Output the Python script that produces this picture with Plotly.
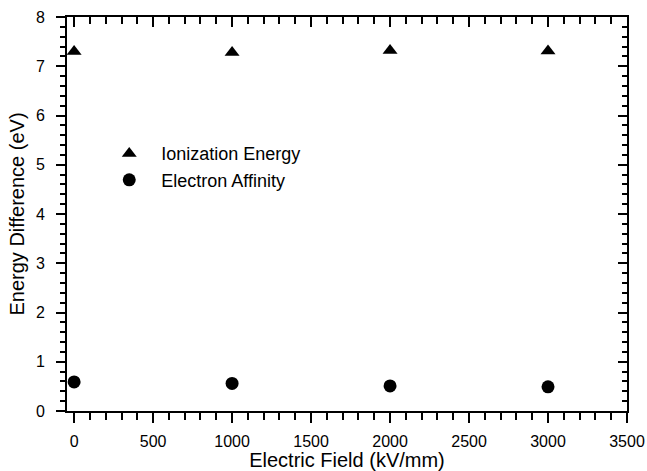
import plotly.graph_objects as go

# Electric field values (kV/mm)
field = [0, 1000, 2000, 3000]
# Energy differences (eV)
ionization_energy = [7.30, 7.28, 7.32, 7.31]
electron_affinity = [0.59, 0.56, 0.51, 0.49]

x_range = [-45, 3500]
y_range = [0, 8]
font_family = "Liberation Sans, Arial, sans-serif"

fig = go.Figure()
fig.add_trace(go.Scatter(
    x=field, y=ionization_energy, mode="markers", name="Ionization Energy",
    marker=dict(symbol="triangle-up", size=13, color="black"),
))
fig.add_trace(go.Scatter(
    x=field, y=electron_affinity, mode="markers", name="Electron Affinity",
    marker=dict(symbol="circle", size=13, color="black"),
))
# Invisible copy on the mirrored axes so the top/right frame gets its ticks
fig.add_trace(go.Scatter(
    x=field, y=ionization_energy, xaxis="x2", yaxis="y2", mode="markers",
    marker=dict(opacity=0), showlegend=False, hoverinfo="skip",
))

line_common = dict(
    showline=True, linecolor="black", linewidth=2,
    tickcolor="black", tickwidth=2,
    showgrid=False, zeroline=False, automargin=False,
)

fig.update_layout(
    width=647, height=471,
    margin=dict(l=67, r=20, t=17, b=60),
    plot_bgcolor="white", paper_bgcolor="white",
    font=dict(family=font_family, color="black", size=16),
    showlegend=True,
    legend=dict(
        x=0.054, y=0.70, xanchor="left", yanchor="top",
        bgcolor="rgba(0,0,0,0)", font=dict(size=18), itemwidth=54,
        tracegroupgap=0,
    ),
    xaxis=dict(
        range=x_range, tick0=0, dtick=500, ticks="outside", ticklen=10,
        ticklabelstandoff=5,
        minor=dict(dtick=100, tick0=0, ticks="outside", ticklen=7,
                   tickwidth=2, tickcolor="black"),
        title=dict(text="Electric Field (kV/mm)", font=dict(size=20), standoff=5),
        **line_common,
    ),
    xaxis2=dict(
        range=x_range, overlaying="x", side="top", layer="above traces",
        tick0=0, dtick=500, ticks="inside", ticklen=10, showticklabels=False,
        minor=dict(dtick=100, tick0=0, ticks="inside", ticklen=7,
                   tickwidth=2, tickcolor="black"),
        **line_common,
    ),
    yaxis=dict(
        range=y_range, tick0=0, dtick=1, ticks="outside", ticklen=9,
        ticklabelstandoff=8,
        minor=dict(dtick=0.2, tick0=0, ticks="outside", ticklen=5,
                   tickwidth=2, tickcolor="black"),
        title=dict(text="Energy Difference (eV)", font=dict(size=20), standoff=6),
        **line_common,
    ),
    yaxis2=dict(
        range=y_range, overlaying="y", side="right", layer="above traces",
        tick0=0, dtick=1, ticks="inside", ticklen=9, showticklabels=False,
        minor=dict(dtick=0.2, tick0=0, ticks="inside", ticklen=5,
                   tickwidth=2, tickcolor="black"),
        **line_common,
    ),
)

fig.write_html("out.html")
